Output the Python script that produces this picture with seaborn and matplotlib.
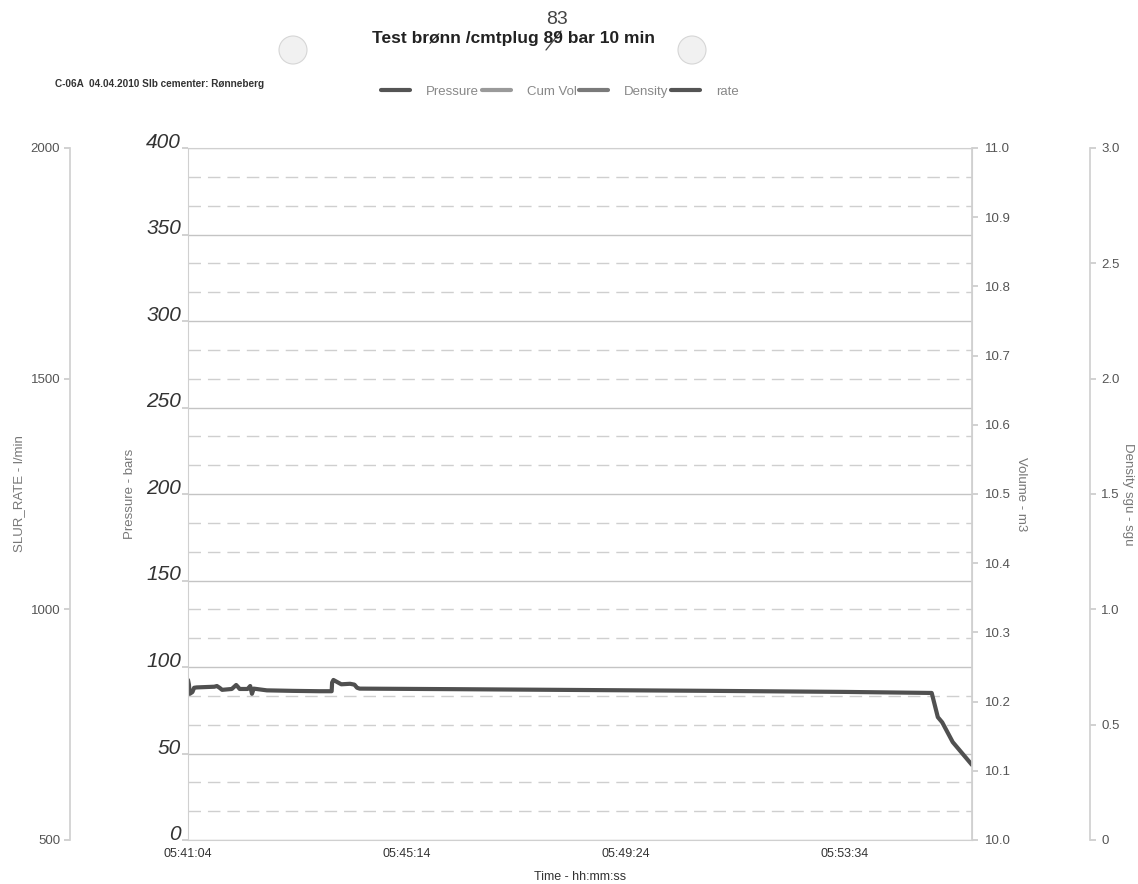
import matplotlib
matplotlib.use("Agg")
import matplotlib.pyplot as plt
from matplotlib.lines import Line2D
from matplotlib.patches import Ellipse
from matplotlib.ticker import MultipleLocator, FixedLocator, NullFormatter
import seaborn as sns
import pandas as pd

# data (seconds after 05:41:04)
time_s = [0, 1, 2, 5, 7, 10, 20, 30, 33, 36, 39, 50, 55, 57, 59, 68, 71, 72, 73, 75,
          90, 120, 150, 164, 164.5, 166, 175, 185, 190, 193, 196, 300, 450, 600, 750,
          849, 856, 861, 873, 895]
pressure = [92.5, 90, 84.5, 85.5, 88, 88.2, 88.4, 88.6, 89, 88, 86.8, 87.3, 89.6, 88.5, 87.3,
            87.3, 89, 87, 84.5, 87.5, 86.5, 86.2, 86.0, 86.0, 91, 92.5, 90, 90.3, 89.8, 88,
            87.5, 87.2, 86.7, 86.2, 85.6, 85.0, 71, 68, 56.6, 43.4]

time_ticks = [0, 250, 500, 750]
time_labels = ["05:41:04", "05:45:14", "05:49:24", "05:53:34"]
pressure_ticks = [0, 50, 100, 150, 200, 250, 300, 350, 400]
volume_ticks = [10.0, 10.1, 10.2, 10.3, 10.4, 10.5, 10.6, 10.7, 10.8, 10.9, 11.0]
rate_ticks = [500, 1000, 1500, 2000]
density_ticks = [0, 0.5, 1.0, 1.5, 2.0, 2.5, 3.0]
density_labels = ["0", "0.5", "1.0", "1.5", "2.0", "2.5", "3.0"]
legend_names = ["Pressure", "Cum Vol", "Density", "rate"]
legend_colors = ["#555555", "#9a9a9a", "#7a7a7a", "#555555"]

df = pd.DataFrame({"t": time_s, "p": pressure})

sns.set_theme(style="white")
plt.rcParams["font.family"] = ["Liberation Sans", "DejaVu Sans"]

fig = plt.figure(figsize=(11.38, 8.84), dpi=100)
W, H = 1138, 884
ax = fig.add_axes([188 / W, 1 - 840 / H, (972 - 188) / W, (840 - 148) / H])

sns.lineplot(data=df, x="t", y="p", ax=ax, color="#505050", linewidth=3,
             estimator=None, sort=False)

ax.set_xlim(0, 895)
ax.set_ylim(0, 400)
ax.yaxis.set_major_locator(FixedLocator(pressure_ticks))
ax.yaxis.set_minor_locator(MultipleLocator(50 / 3))
ax.yaxis.set_minor_formatter(NullFormatter())
ax.grid(which="major", axis="y", color="#c4c4c4", linewidth=1, linestyle="-")
ax.grid(which="minor", axis="y", color="#cfcfcf", linewidth=1, linestyle=(0, (9, 5)))
ax.set_xticks(time_ticks)
ax.set_xticklabels(time_labels)
ax.tick_params(axis="x", labelsize=9, labelcolor="#333333", length=0, pad=6)
ax.tick_params(axis="y", which="major", labelsize=15, labelcolor="#333333",
               length=4, color="#cccccc", left=True, pad=1)
ax.tick_params(axis="y", which="minor", length=0)
for lab in ax.get_yticklabels():
    lab.set_fontstyle("italic")
    lab.set_verticalalignment("baseline")
ax.set_xlabel("Time - hh:mm:ss", fontsize=9, color="#333333", labelpad=8)
ax.set_ylabel("Pressure - bars", fontsize=9.5, color="#777777", labelpad=7)
for s in ax.spines.values():
    s.set_color("#d0d0d0")
    s.set_linewidth(0.8)

# cumulative volume axis
axv = ax.twinx()
axv.set_ylim(10.0, 11.0)
axv.set_yticks(volume_ticks)
axv.set_yticklabels([f"{v:.1f}" for v in volume_ticks])
axv.tick_params(axis="y", labelsize=9.5, labelcolor="#555555", length=4,
                color="#cccccc", right=True, pad=5)
axv.set_ylabel("Volume - m3", fontsize=9.5, color="#777777", rotation=270, labelpad=12)
for s in axv.spines.values():
    s.set_visible(False)
axv.spines["right"].set_visible(True)
axv.spines["right"].set_color("#d0d0d0")

# slurry rate axis (far left)
axr = ax.twinx()
axr.spines["left"].set_position(("axes", (70 - 188) / 784))
axr.yaxis.set_ticks_position("left")
axr.yaxis.set_label_position("left")
axr.set_ylim(500, 2000)
axr.set_yticks(rate_ticks)
axr.tick_params(axis="y", labelsize=9.5, labelcolor="#555555", length=4,
                color="#cccccc", left=True, right=False, pad=3)
axr.set_ylabel("SLUR_RATE - l/min", fontsize=9.5, color="#777777", labelpad=4)
for s in axr.spines.values():
    s.set_visible(False)
axr.spines["left"].set_visible(True)
axr.spines["left"].set_color("#d0d0d0")

# density axis (far right)
axd = ax.twinx()
axd.spines["right"].set_position(("axes", (1090 - 188) / 784))
axd.set_ylim(0, 3)
axd.set_yticks(density_ticks)
axd.set_yticklabels(density_labels)
axd.tick_params(axis="y", labelsize=9.5, labelcolor="#555555", length=4,
                color="#cccccc", right=True, pad=4)
axd.set_ylabel("Density sgu - sgu", fontsize=9.5, color="#777777", rotation=270, labelpad=10)
for s in axd.spines.values():
    s.set_visible(False)
axd.spines["right"].set_visible(True)
axd.spines["right"].set_color("#d0d0d0")

# header
fig.text(513 / W, 1 - 38 / H, "Test brønn /cmtplug 89 bar 10 min", ha="center",
         va="center", fontsize=12.5, fontweight="bold", color="#222222")
fig.text(557 / W, 1 - 19 / H, "83", ha="center", va="center", fontsize=14,
         fontweight="light", color="#444444")
fig.add_artist(Line2D([546 / W, 561 / W], [1 - 50 / H, 1 - 31 / H], color="#444444",
                      linewidth=0.9, transform=fig.transFigure))
fig.text(55 / W, 1 - 84 / H, "C-06A  04.04.2010 Slb cementer: Rønneberg", ha="left",
         va="center", fontsize=7.2, fontweight="bold", color="#333333")
for cx in (293, 692):
    fig.add_artist(Ellipse((cx / W, 1 - 50 / H), 28 / W, 28 / H, facecolor="#f1f1f1",
                           edgecolor="#d6d6d6", linewidth=0.8,
                           transform=fig.transFigure))

handles = [Line2D([], [], color=c, linewidth=3) for c in legend_colors]
leg = fig.legend(handles, legend_names, loc="center", bbox_to_anchor=(560 / W, 1 - 92 / H),
                 ncol=4, frameon=False, fontsize=9.5, handlelength=2.2,
                 columnspacing=0.2, handletextpad=1.2)
for t in leg.get_texts():
    t.set_color("#888888")

fig.savefig("out.png", dpi=100)
